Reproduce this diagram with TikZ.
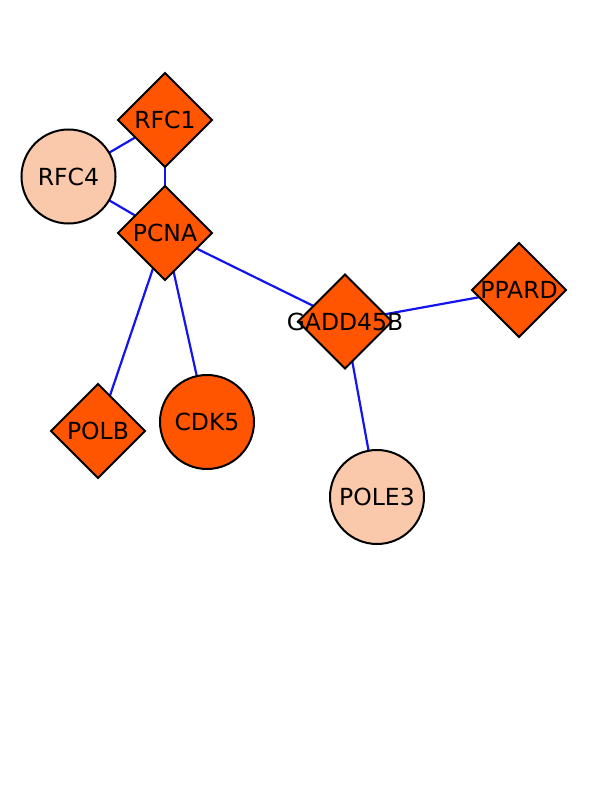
\documentclass[tikz,border=0pt]{standalone}
\usepackage{fontspec}
\setmainfont{DejaVu Sans}
\usetikzlibrary{shapes.geometric}
\definecolor{darkor}{RGB}{255,85,0}
\definecolor{lightor}{RGB}{250,200,170}
\definecolor{edgeblue}{RGB}{20,20,240}
\tikzset{
  gene/.style={draw=black, line width=2pt, inner sep=0pt, outer sep=0pt},
  dia/.style={gene, diamond, minimum width=94pt, minimum height=94pt, fill=darkor},
  circdark/.style={gene, circle, minimum size=94pt, fill=darkor},
  circlight/.style={gene, circle, minimum size=94pt, fill=lightor},
  lbl/.style={font=\fontsize{23.5}{24}\selectfont, text=black},
  edge/.style={draw=edgeblue, line width=2.2pt},
}
\begin{document}
\begin{tikzpicture}[x=1pt,y=-1pt]
\useasboundingbox (0,0) rectangle (612,792);
\fill[white] (0,0) rectangle (612,792);
% node positions
\coordinate (pRFC1) at (165,120);
\coordinate (pRFC4) at (68.5,176.5);
\coordinate (pPCNA) at (165,233);
\coordinate (pGADD) at (345,321.5);
\coordinate (pPPARD) at (519,290);
\coordinate (pPOLE3) at (377,497);
\coordinate (pCDK5) at (207,422);
\coordinate (pPOLB) at (98,431);
% edges (behind)
\draw[edge] (pRFC4) -- (pRFC1);
\draw[edge] (pRFC4) -- (pPCNA);
\draw[edge] (pRFC1) -- (pPCNA);
\draw[edge] (pPCNA) -- (pGADD);
\draw[edge] (pPCNA) -- (pPOLB);
\draw[edge] (pPCNA) -- (pCDK5);
\draw[edge] (pGADD) -- (pPPARD);
\draw[edge] (pGADD) -- (pPOLE3);
% nodes
\node[dia] (RFC1) at (pRFC1) {};
\node[lbl] (tRFC1) at (pRFC1) {RFC1};
\node[circlight] (RFC4) at (pRFC4) {};
\node[lbl] (tRFC4) at (pRFC4) {RFC4};
\node[dia] (PCNA) at (pPCNA) {};
\node[lbl] (tPCNA) at (pPCNA) {PCNA};
\node[dia] (GADD) at (pGADD) {};
\node[lbl] (tGADD) at (pGADD) {GADD45B};
\node[dia] (PPARD) at (pPPARD) {};
\node[lbl] (tPPARD) at (pPPARD) {PPARD};
\node[circlight] (POLE3) at (pPOLE3) {};
\node[lbl] (tPOLE3) at (pPOLE3) {POLE3};
\node[circdark] (CDK5) at (pCDK5) {};
\node[lbl] (tCDK5) at (pCDK5) {CDK5};
\node[dia] (POLB) at (pPOLB) {};
\node[lbl] (tPOLB) at (pPOLB) {POLB};
\end{tikzpicture}
\end{document}
